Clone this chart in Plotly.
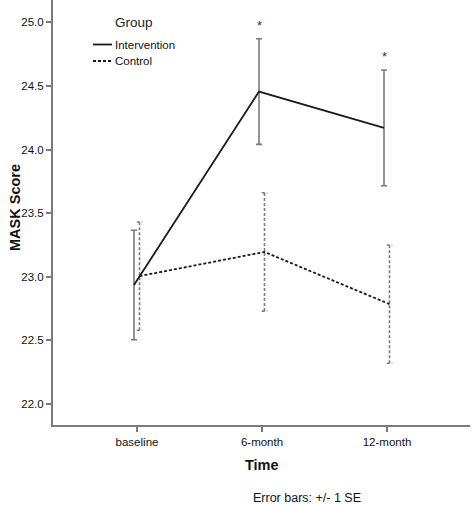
import plotly.graph_objects as go

categories = ["baseline", "6-month", "12-month"]
intervention_mean = [22.935, 24.455, 24.17]
intervention_se = [0.43, 0.415, 0.455]
control_mean = [23.005, 23.195, 22.785]
control_se = [0.425, 0.465, 0.465]
significant = ["", "*", "*"]
series_names = ["Intervention", "Control"]
y_ticks = [22.0, 22.5, 23.0, 23.5, 24.0, 24.5, 25.0]
y_tick_labels = ["22.0", "22.5", "23.0", "23.5", "24.0", "24.5", "25.0"]

FONT = "Liberation Sans, Arial, sans-serif"
GREY = "#7a7a7a"
OFF_I = -0.024
OFF_C = 0.02
CAP = 0.022
DASH = "3px,2px"

W, H = 472, 506
ML, MR, MT, MB = 53, 2, 0, 81
PW, PH = W - ML - MR, H - MT - MB


def px(xp):
    return (xp - ML) / PW


def py(yp):
    return (MT + PH - yp) / PH


xi = [i + OFF_I for i in range(len(categories))]
xc = [i + OFF_C for i in range(len(categories))]

fig = go.Figure()

# intervention error bars (solid grey)
fig.add_trace(go.Scatter(
    x=xi, y=intervention_mean, mode="markers", marker=dict(size=0.1, color="rgba(0,0,0,0)"),
    error_y=dict(type="data", array=intervention_se, color=GREY, thickness=1.6, width=3),
    showlegend=False, hoverinfo="skip"))

# control error bars (dashed grey) built from data
ex, ey = [], []
for x, m, s in zip(xc, control_mean, control_se):
    lo, hi = m - s, m + s
    ex += [x, x, None, x - CAP, x + CAP, None, x - CAP, x + CAP, None]
    ey += [lo, hi, None, lo, lo, None, hi, hi, None]
fig.add_trace(go.Scatter(x=ex, y=ey, mode="lines",
                         line=dict(color=GREY, width=1.6, dash=DASH),
                         showlegend=False, hoverinfo="skip"))

fig.add_trace(go.Scatter(x=xi, y=intervention_mean, mode="lines", name=series_names[0],
                         line=dict(color="#1a1a1a", width=1.8), showlegend=False))
fig.add_trace(go.Scatter(x=xc, y=control_mean, mode="lines", name=series_names[1],
                         line=dict(color="#1a1a1a", width=1.8, dash=DASH), showlegend=False))

for x, m, s, t in zip(xi, intervention_mean, intervention_se, significant):
    if t:
        fig.add_annotation(x=x, y=m + s, text=t, showarrow=False, yanchor="bottom",
                           yshift=4, font=dict(family=FONT, size=13, color="#333"))

# legend (Group)
fig.add_annotation(xref="paper", yref="paper", x=px(133.5), y=py(23), xanchor="center",
                   yanchor="middle", text="Group", showarrow=False,
                   font=dict(family=FONT, size=13.5, color="#222"))
for name, yy, dash in [(series_names[0], 44.5, "solid"), (series_names[1], 61, DASH)]:
    fig.add_shape(type="line", xref="paper", yref="paper", x0=px(93), x1=px(112),
                  y0=py(yy), y1=py(yy), line=dict(color="#1a1a1a", width=1.8, dash=dash))
    fig.add_annotation(xref="paper", yref="paper", x=px(112.5), y=py(yy), xanchor="left",
                       yanchor="middle", text=name, showarrow=False,
                       font=dict(family=FONT, size=11.5, color="#111"))

# axis titles
fig.add_annotation(xref="paper", yref="paper", x=px(15), y=py(208), xanchor="center",
                   yanchor="middle", textangle=-90, text="<b>MASK Score</b>", showarrow=False,
                   font=dict(family=FONT, size=14.5, color="#111"))
fig.add_annotation(xref="paper", yref="paper", x=px(262), y=py(465), xanchor="center",
                   yanchor="middle", text="<b>Time</b>", showarrow=False,
                   font=dict(family=FONT, size=14.5, color="#111"))

fig.add_annotation(xref="paper", yref="paper", x=px(307), y=py(498), xanchor="center",
                   yanchor="middle", text="Error bars: +/- 1 SE", showarrow=False,
                   font=dict(family=FONT, size=12.5, color="#111"))

fig.update_layout(
    width=W, height=H,
    margin=dict(l=ML, r=MR, t=MT, b=MB),
    paper_bgcolor="white", plot_bgcolor="white",
    font=dict(family=FONT, color="#111"),
    showlegend=False,
)
fig.update_xaxes(range=[-0.672, 2.664], tickmode="array", tickvals=list(range(len(categories))),
                 ticktext=categories, showline=True, linecolor=GREY, linewidth=2,
                 ticks="outside", ticklen=5, tickcolor=GREY, tickwidth=1.5,
                 showgrid=False, zeroline=False, automargin=False,
                 tickfont=dict(size=11.5, color="#111"))
fig.update_yaxes(range=[21.835, 25.175], tickmode="array",
                 tickvals=y_ticks, ticktext=y_tick_labels,
                 showline=True, linecolor=GREY, linewidth=2,
                 ticks="outside", ticklen=5, tickcolor=GREY, tickwidth=1.5,
                 showgrid=False, zeroline=False, automargin=False,
                 tickfont=dict(size=11.5, color="#111"))

fig.write_html("out.html", config={"displayModeBar": False},
               post_script="document.body.style.margin='0';document.body.style.overflow='hidden';")
